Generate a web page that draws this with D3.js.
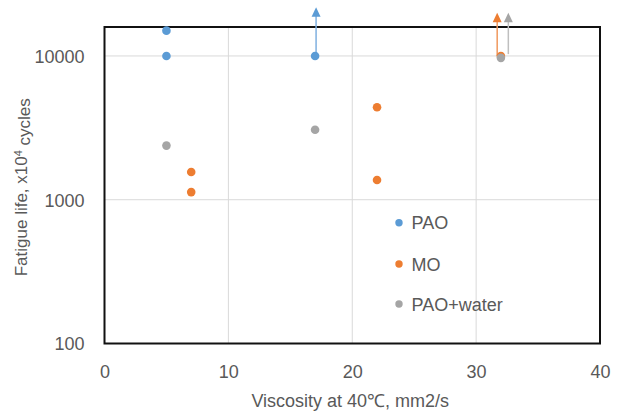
<!DOCTYPE html>
<html>
<head>
<meta charset="utf-8">
<script src="https://cdn.jsdelivr.net/npm/d3@7"></script>
<style>
  body { margin: 0; background: #fff; }
  text { font-family: "Liberation Sans", Arial, sans-serif; fill: #595959; }
</style>
</head>
<body>
<div id="chart"></div>
<script>
// data
const paoX = [5, 5, 17];
const paoY = [15000, 10000, 10000];
const moX = [7, 7, 22, 22, 32];
const moY = [1560, 1130, 4400, 1370, 10000];
const waterX = [5, 17, 32];
const waterY = [2380, 3070, 9700];

// arrows: test still running (x, start value, tip value)
const arrowX = [17.08, 31.7, 32.6];
const arrowFrom = [10000, 10000, 10300];
const arrowTo = [21800, 20000, 20000];
const arrowSeries = [0, 1, 2];

const seriesNames = ['PAO', 'MO', 'PAO+water'];
const colors = ['#5B9BD5', '#ED7D31', '#A5A5A5'];
const arrowColors = ['#7FB0E0', '#F0995E', '#BFBFBF'];

const xTicks = [0, 10, 20, 30, 40];
const yTicks = [100, 1000, 10000];

const chart_width = 618, chart_height = 415;
const plotLeft = 104.5, plotRight = 600, plotTop = 27, plotBottom = 343.5;

const svg = d3.select('#chart').append('svg')
    .attr('width', chart_width)
    .attr('height', chart_height);

const x_scale = d3.scaleLinear().domain([0, 40]).range([plotLeft, plotRight]);
const y_scale = d3.scaleLog().domain([100, 15900]).range([plotBottom, plotTop]);

// grid
svg.append('g').selectAll('line')
    .data(xTicks.slice(1, -1))
    .join('line')
    .attr('x1', d => x_scale(d)).attr('x2', d => x_scale(d))
    .attr('y1', plotTop).attr('y2', plotBottom)
    .attr('stroke', '#d9d9d9').attr('stroke-width', 1);
svg.append('g').selectAll('line')
    .data(yTicks.slice(1))
    .join('line')
    .attr('x1', plotLeft).attr('x2', plotRight)
    .attr('y1', d => y_scale(d)).attr('y2', d => y_scale(d))
    .attr('stroke', '#d9d9d9').attr('stroke-width', 1);

// plot border
svg.append('rect')
    .attr('x', plotLeft).attr('y', plotTop)
    .attr('width', plotRight - plotLeft).attr('height', plotBottom - plotTop)
    .attr('fill', 'none')
    .attr('stroke', '#111')
    .attr('stroke-width', 2);

// axes (labels only)
const x_axis = d3.axisBottom(x_scale).tickValues(xTicks).tickSize(0).tickPadding(0);
const gx = svg.append('g')
    .attr('transform', `translate(0,${plotBottom})`)
    .call(x_axis);
gx.select('.domain').remove();
gx.selectAll('text')
    .attr('y', 34.5).attr('dy', null)
    .style('font-size', '18px')
    .style('font-family', '"Liberation Sans", Arial, sans-serif')
    .attr('fill', '#595959');

const y_axis = d3.axisLeft(y_scale).tickValues(yTicks).tickFormat(d3.format('d')).tickSize(0).tickPadding(0);
const gy = svg.append('g')
    .attr('transform', `translate(${plotLeft},0)`)
    .call(y_axis);
gy.select('.domain').remove();
gy.selectAll('text')
    .attr('x', -20).attr('dy', '0.36em')
    .style('font-size', '18px')
    .style('font-family', '"Liberation Sans", Arial, sans-serif')
    .attr('fill', '#595959');

// axis titles
svg.append('text')
    .attr('x', (plotLeft + plotRight) / 2 - 2)
    .attr('y', 407)
    .attr('text-anchor', 'middle')
    .style('font-size', '18px')
    .text('Viscosity at 40\u2103, mm2/s');

const yTitle = svg.append('text')
    .attr('transform', `translate(27,${(plotTop + plotBottom) / 2 + 2}) rotate(-90)`)
    .attr('text-anchor', 'middle')
    .style('font-size', '17px');
yTitle.append('tspan').text('Fatigue life, x10');
yTitle.append('tspan').attr('dy', '-0.45em').style('font-size', '11px').text('4');
yTitle.append('tspan').attr('dy', '0.45em').text(' cycles');

// arrows
const arrows = arrowX.map((d, i) => ({x: d, from: arrowFrom[i], to: arrowTo[i], s: arrowSeries[i]}));
const ga = svg.append('g');
ga.selectAll('line')
    .data(arrows)
    .join('line')
    .attr('x1', d => x_scale(d.x)).attr('x2', d => x_scale(d.x))
    .attr('y1', d => y_scale(d.from))
    .attr('y2', d => y_scale(d.to) + 8)
    .attr('stroke', d => arrowColors[d.s])
    .attr('stroke-width', 1.5);
ga.selectAll('path')
    .data(arrows)
    .join('path')
    .attr('d', d => {
        const px = x_scale(d.x), py = y_scale(d.to);
        return `M${px},${py} L${px + 4.5},${py + 9.5} L${px - 4.5},${py + 9.5} Z`;
    })
    .attr('fill', d => colors[d.s]);

// points
const allSeries = [
    paoX.map((d, i) => ({x: d, y: paoY[i]})),
    moX.map((d, i) => ({x: d, y: moY[i]})),
    waterX.map((d, i) => ({x: d, y: waterY[i]}))
];
allSeries.forEach((pts, s) => {
    svg.append('g').selectAll('circle')
        .data(pts)
        .join('circle')
        .attr('cx', d => x_scale(d.x))
        .attr('cy', d => y_scale(d.y))
        .attr('r', 4.3)
        .attr('fill', colors[s]);
});

// legend
const legendY = [222.7, 264, 304];
const lg = svg.append('g');
seriesNames.forEach((name, i) => {
    lg.append('circle')
        .attr('cx', 399).attr('cy', legendY[i])
        .attr('r', 3.7)
        .attr('fill', colors[i]);
    lg.append('text')
        .attr('x', 411.5).attr('y', legendY[i] + 6.5)
        .style('font-size', '18px')
        .text(name);
});
</script>
</body>
</html>
